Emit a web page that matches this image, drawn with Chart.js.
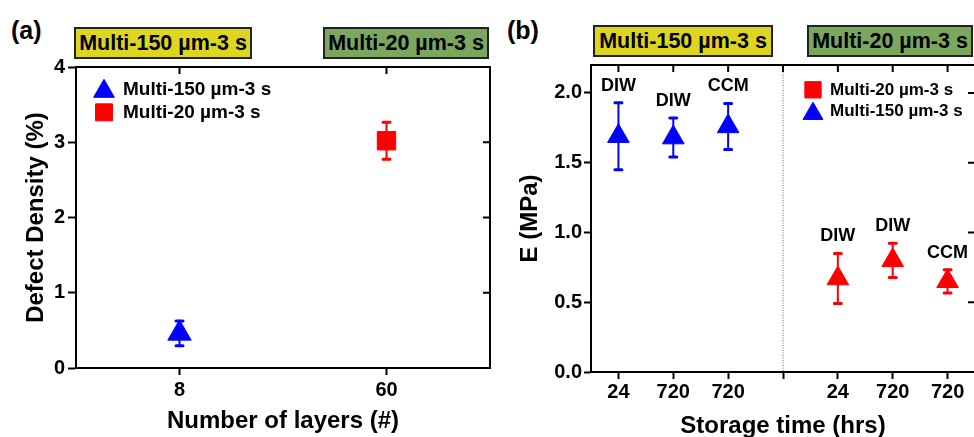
<!DOCTYPE html>
<html>
<head>
<meta charset="utf-8">
<script src="https://cdn.jsdelivr.net/npm/chart.js@4.4.1/dist/chart.umd.min.js"></script>
<style>
html,body{margin:0;padding:0;background:#fff;}
body{width:974px;height:437px;overflow:hidden;position:relative;font-family:"Liberation Sans",Arial,sans-serif;color:#000;}
canvas{position:absolute;top:0;}
#ca{left:0;}
#cb{left:500px;}
.tag{position:absolute;box-sizing:border-box;height:32px;border:2px solid #222;font-weight:bold;font-size:21.5px;line-height:28px;text-align:center;white-space:nowrap;}
.yel{background:#DED61E;}
.grn{background:#7BA65E;}
.pl{position:absolute;font-weight:bold;font-size:25px;line-height:25px;white-space:nowrap;}
</style>
</head>
<body>
<div class="pl" style="left:11px;top:18px;">(a)</div>
<div class="pl" style="left:507px;top:18px;">(b)</div>
<div class="tag yel" style="left:74px;top:27px;width:178px;">Multi-150 µm-3 s</div>
<div class="tag grn" style="left:323px;top:27px;width:166px;">Multi-20 µm-3 s</div>
<div class="tag yel" style="left:593px;top:25px;width:180px;">Multi-150 µm-3 s</div>
<div class="tag grn" style="left:807px;top:25px;width:166px;">Multi-20 µm-3 s</div>
<canvas id="ca" width="500" height="437"></canvas>
<canvas id="cb" width="480" height="445"></canvas>
<script>
// ---------- data ----------
const NAME_150 = 'Multi-150 µm-3 s';
const NAME_20 = 'Multi-20 µm-3 s';

// Panel (a): defect density vs number of layers
const layerLabels = ['8', '60'];
const defectBlue = [0.46, null];
const defectBlueErr = [0.165, null];
const defectRed = [null, 3.02];
const defectRedErr = [null, 0.245];

// Panel (b): modulus vs storage time
const storageLabels = ['24', '720', '720', '', '24', '720', '720'];
const modulusBlue = [1.69, 1.68, 1.76, null, null, null, null];
const modulusBlueErr = [0.24, 0.14, 0.165, null, null, null, null];
const modulusRed = [null, null, null, null, 0.67, 0.80, 0.65];
const modulusRedErr = [null, null, null, null, 0.18, 0.123, 0.083];
const methodBlue = ['DIW', 'DIW', 'CCM', null, null, null, null];
const methodRed = [null, null, null, null, 'DIW', 'DIW', 'CCM'];

// ---------- setup ----------
const FAMILY = '"Liberation Sans", Arial, sans-serif';
Chart.defaults.font.family = FAMILY;
Chart.defaults.font.weight = 'bold';
Chart.defaults.color = '#000';

function drawMarker(ctx, style, r, x, y) {
  if (Chart.helpers && Chart.helpers.drawPoint) {
    Chart.helpers.drawPoint(ctx, {pointStyle: style, radius: r, borderWidth: 1, rotation: 0}, x, y);
    return;
  }
  ctx.beginPath();
  if (style === 'triangle') {
    ctx.moveTo(x, y - r);
    ctx.lineTo(x + 0.866 * r, y + 0.5 * r);
    ctx.lineTo(x - 0.866 * r, y + 0.5 * r);
    ctx.closePath();
  } else {
    const s = Math.SQRT1_2 * r;
    ctx.rect(x - s, y - s, 2 * s, 2 * s);
  }
  ctx.fill(); ctx.stroke();
}

const errorBarPlugin = {
  id: 'errorBars',
  beforeDatasetsDraw(chart) {
    const {ctx} = chart;
    const y = chart.scales.y;
    chart.data.datasets.forEach((ds, di) => {
      if (!ds.errorBars) return;
      const meta = chart.getDatasetMeta(di);
      ctx.save();
      ctx.strokeStyle = ds.borderColor;
      ds.data.forEach((v, i) => {
        const e = ds.errorBars[i];
        if (v == null || e == null) return;
        const px = meta.data[i].x;
        const top = y.getPixelForValue(v + e);
        const bot = y.getPixelForValue(v - e);
        ctx.lineWidth = 2; ctx.lineCap = 'butt';
        ctx.beginPath(); ctx.moveTo(px, top); ctx.lineTo(px, bot); ctx.stroke();
        ctx.lineWidth = 3; ctx.lineCap = 'round';
        ctx.beginPath();
        ctx.moveTo(px - 3.5, top); ctx.lineTo(px + 3.5, top);
        ctx.moveTo(px - 3.5, bot); ctx.lineTo(px + 3.5, bot);
        ctx.stroke();
      });
      ctx.restore();
    });
  }
};

const tagPlugin = {
  id: 'pointTags',
  afterDatasetsDraw(chart) {
    const {ctx} = chart;
    const y = chart.scales.y;
    chart.data.datasets.forEach((ds, di) => {
      if (!ds.pointTags) return;
      const meta = chart.getDatasetMeta(di);
      ctx.save();
      ctx.font = 'bold 18px ' + FAMILY;
      ctx.fillStyle = '#000';
      ctx.textAlign = 'center';
      ctx.textBaseline = 'middle';
      ds.data.forEach((v, i) => {
        const t = ds.pointTags[i];
        if (v == null || !t) return;
        const e = ds.errorBars ? (ds.errorBars[i] || 0) : 0;
        ctx.fillText(t, meta.data[i].x, y.getPixelForValue(v + e) - 17);
      });
      ctx.restore();
    });
  }
};

const framePlugin = {
  id: 'frame',
  afterDraw(chart, args, opts) {
    const {ctx, chartArea: a} = chart;
    const x = chart.scales.x, y = chart.scales.y;
    ctx.save();
    if (opts.divider != null && opts.divider >= 0) {
      const dx = x.getPixelForTick(opts.divider);
      ctx.strokeStyle = '#666';
      ctx.lineWidth = 1;
      ctx.setLineDash([1, 1.5]);
      ctx.beginPath(); ctx.moveTo(dx, a.top); ctx.lineTo(dx, a.bottom); ctx.stroke();
      ctx.setLineDash([]);
    }
    ctx.strokeStyle = '#000';
    ctx.lineWidth = 2;
    ctx.beginPath();
    ctx.moveTo(a.left - 1, a.top); ctx.lineTo(a.right, a.top); ctx.lineTo(a.right, a.bottom + 1);
    x.ticks.forEach((t, i) => {
      const px = x.getPixelForTick(i);
      ctx.moveTo(px, a.top); ctx.lineTo(px, a.top + 7);
    });
    y.ticks.forEach((t, i) => {
      const py = y.getPixelForTick(i);
      ctx.moveTo(a.right, py); ctx.lineTo(a.right - 7, py);
    });
    ctx.stroke();
    ctx.restore();
  }
};

const legendPlugin = {
  id: 'insideLegend',
  afterDraw(chart, args, opts) {
    const {ctx} = chart;
    ctx.save();
    ctx.font = 'bold ' + opts.fontSize + 'px ' + FAMILY;
    ctx.textBaseline = 'middle';
    ctx.textAlign = 'left';
    opts.order.forEach((di, row) => {
      const ds = chart.data.datasets[di];
      const cy = opts.y + row * opts.rowGap;
      const style = ds.legendStyle || ds.pointStyle;
      ctx.fillStyle = ds.backgroundColor;
      ctx.strokeStyle = ds.borderColor;
      drawMarker(ctx, style, opts.markerRadius, opts.markerX, cy + (style === 'triangle' ? 2 : -0.5));
      ctx.fillStyle = '#000';
      ctx.fillText(ds.label, opts.textX, cy);
    });
    ctx.restore();
  }
};

function gridOpts(len) {
  return {display: true, drawOnChartArea: false, drawTicks: true, tickLength: len,
          tickWidth: 2, tickColor: '#000', offset: false};
}
const borderOpts = {display: true, color: '#000', width: 2};

// ---------- panel (a) ----------
new Chart(document.getElementById('ca'), {
  type: 'line',
  data: {
    labels: layerLabels,
    datasets: [
      {label: NAME_150, data: defectBlue, errorBars: defectBlueErr, showLine: false,
       pointStyle: 'triangle', pointRadius: 13.5, pointHoverRadius: 13.5, pointBorderWidth: 1,
       backgroundColor: '#0000FF', borderColor: '#0000FF',
       pointBackgroundColor: '#0000FF', pointBorderColor: '#0000FF', clip: false},
      {label: NAME_20, data: defectRed, errorBars: defectRedErr, showLine: false,
       pointStyle: 'rect', pointRadius: 13, pointHoverRadius: 13, pointBorderWidth: 1,
       backgroundColor: '#FF0000', borderColor: '#FF0000',
       pointBackgroundColor: '#FF0000', pointBorderColor: '#FF0000', clip: false}
    ]
  },
  options: {
    responsive: false, animation: false, devicePixelRatio: 1,
    layout: {autoPadding: false, padding: {left: 0, right: 10, top: 67, bottom: 0}},
    plugins: {
      legend: {display: false}, tooltip: {enabled: false},
      insideLegend: {order: [0, 1], y: 89.3, rowGap: 23.5, markerX: 104, textX: 123, fontSize: 19, markerRadius: 12},
      frame: {divider: null}
    },
    scales: {
      x: {
        type: 'category', offset: true,
        grid: gridOpts(7), border: borderOpts,
        ticks: {font: {size: 20, weight: 'bold'}, padding: 3.5, maxRotation: 0, autoSkip: false},
        title: {display: true, text: 'Number of layers (#)', font: {size: 24, weight: 'bold'}, padding: {top: 0, bottom: 1}},
        afterFit(s) { s.height = 69; }
      },
      y: {
        type: 'linear', min: 0, max: 4,
        grid: gridOpts(8), border: borderOpts,
        ticks: {stepSize: 1, font: {size: 20, weight: 'bold'}, padding: 3},
        title: {display: true, text: 'Defect Density (%)', font: {size: 24, weight: 'bold'}, padding: {top: 21.6, bottom: 0}},
        afterFit(s) { s.width = 76; }
      }
    }
  },
  plugins: [errorBarPlugin, framePlugin, legendPlugin]
});

// ---------- panel (b) ----------
new Chart(document.getElementById('cb'), {
  type: 'line',
  data: {
    labels: storageLabels,
    datasets: [
      {label: NAME_150, data: modulusBlue, errorBars: modulusBlueErr, pointTags: methodBlue, showLine: false,
       pointStyle: 'triangle', pointRadius: 12.5, pointHoverRadius: 12.5, pointBorderWidth: 1,
       backgroundColor: '#0000FF', borderColor: '#0000FF',
       pointBackgroundColor: '#0000FF', pointBorderColor: '#0000FF', clip: false},
      {label: NAME_20, data: modulusRed, errorBars: modulusRedErr, pointTags: methodRed, showLine: false,
       pointStyle: 'triangle', legendStyle: 'rect', pointRadius: 12.5, pointHoverRadius: 12.5, pointBorderWidth: 1,
       backgroundColor: '#FF0000', borderColor: '#FF0000',
       pointBackgroundColor: '#FF0000', pointBorderColor: '#FF0000', clip: false}
    ]
  },
  options: {
    responsive: false, animation: false, devicePixelRatio: 1,
    layout: {autoPadding: false, padding: {left: 0, right: 5, top: 65, bottom: 0}},
    plugins: {
      legend: {display: false}, tooltip: {enabled: false},
      insideLegend: {order: [1, 0], y: 90.3, rowGap: 21.4, markerX: 313, textX: 330, fontSize: 17, markerRadius: 11.5},
      frame: {divider: storageLabels.indexOf('')}
    },
    scales: {
      x: {
        type: 'category', offset: true,
        grid: gridOpts(7), border: borderOpts,
        ticks: {font: {size: 20, weight: 'bold'}, padding: 1.7, maxRotation: 0, autoSkip: false},
        title: {display: true, text: 'Storage time (hrs)', font: {size: 24, weight: 'bold'}, padding: {top: 0, bottom: 4.4}},
        afterFit(s) { s.height = 73; }
      },
      y: {
        type: 'linear', min: 0, max: 2.2,
        grid: gridOpts(7), border: borderOpts,
        ticks: {stepSize: 0.5, includeBounds: false, font: {size: 20, weight: 'bold'}, padding: 2,
                callback: v => Number(v).toFixed(1)},
        title: {display: true, text: 'E (MPa)', font: {size: 24, weight: 'bold'}, padding: {top: 15.6, bottom: 0}},
        afterFit(s) { s.width = 91; }
      }
    }
  },
  plugins: [errorBarPlugin, tagPlugin, framePlugin, legendPlugin]
});
</script>
</body>
</html>
